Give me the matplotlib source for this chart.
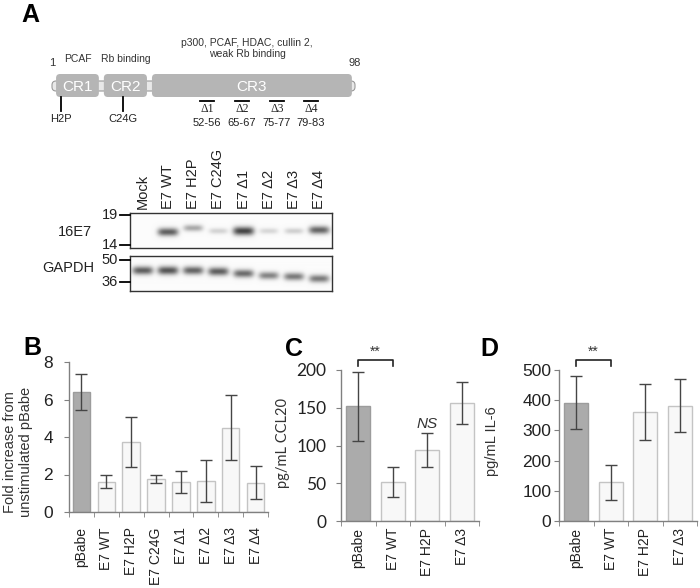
import matplotlib.pyplot as plt
import numpy as np
from matplotlib.patches import FancyBboxPatch

# ---- data ----
# E7 schematic (drawn units, roughly residues)
domain_names = ["CR1", "CR2", "CR3"]
domain_start = [2.3, 17.6, 33.0]
domain_end = [16.0, 31.4, 97.0]
domain_notes = ["PCAF", "Rb binding", "p300, PCAF, HDAC, cullin 2,\nweak Rb binding"]
mut_names = ["H2P", "C24G"]
mut_pos = [3.9, 23.7]
del_names = ["Δ1", "Δ2", "Δ3", "Δ4"]
del_ranges = ["52-56", "65-67", "75-77", "79-83"]
del_pos = [50.6, 61.8, 73.0, 83.9]

# western blot
lanes = ["Mock", "E7 WT", "E7 H2P", "E7 C24G", "E7 Δ1", "E7 Δ2", "E7 Δ3", "E7 Δ4"]
e7_band = [0.0, 0.85, 0.45, 0.22, 1.0, 0.2, 0.24, 0.82]
e7_band_y = [19, 19, 15, 18, 18, 18, 18, 17]
gapdh_band = [0.85, 0.9, 0.82, 0.85, 0.78, 0.65, 0.7, 0.7]
gapdh_band_y = [15, 15, 15, 16, 18, 20, 21, 23]
markers_top = ["19", "14"]
markers_bot = ["50", "36"]

# B
b_labels = ["pBabe", "E7 WT", "E7 H2P", "E7 C24G", "E7 Δ1", "E7 Δ2", "E7 Δ3", "E7 Δ4"]
b_vals = [6.4, 1.62, 3.75, 1.75, 1.6, 1.65, 4.5, 1.55]
b_errs = [0.95, 0.33, 1.34, 0.21, 0.58, 1.12, 1.75, 0.88]
# C
c_labels = ["pBabe", "E7 WT", "E7 H2P", "E7 Δ3"]
c_vals = [152, 52, 94, 156]
c_errs = [46, 20, 22, 28]
# D
d_labels = ["pBabe", "E7 WT", "E7 H2P", "E7 Δ3"]
d_vals = [392, 128, 360, 382]
d_errs = [87, 58, 92, 87]

plt.rcParams['font.family'] = ['Liberation Sans', 'DejaVu Sans']
W, H = 700, 588
fig = plt.figure(figsize=(7, 5.88), dpi=100)


def px_axes(x0, y0, x1, y1):
    return fig.add_axes([x0 / W, 1 - y1 / H, (x1 - x0) / W, (y1 - y0) / H])


def ftext(x, y, s, **kw):
    fig.text(x / W, 1 - y / H, s, **kw)


# ---- panel letters ----
for lx, ly, lt in [(30, 15, "A"), (32, 348, "B"), (294, 349, "C"), (489, 349, "D")]:
    ftext(lx, ly, lt, fontsize=18, fontweight="bold", ha="center", va="center")

# ---- A: schematic ----
ax_s = px_axes(40, 30, 370, 135)
sx = 303 / 97.0
ax_s.set_xlim(1 - 12 / sx, 98 + 15 / sx)
ax_s.set_ylim(105, 0)
ax_s.axis("off")
r = 4 / sx
ax_s.add_patch(FancyBboxPatch((1, 51), 97, 10, boxstyle=f"round,pad=0,rounding_size={r}",
                              mutation_aspect=sx, fc="#e8e8e8", ec="#9a9a9a", lw=0.8))
for name, s, e in zip(domain_names, domain_start, domain_end):
    ax_s.add_patch(FancyBboxPatch((s, 44), e - s, 23,
                                  boxstyle=f"round,pad=0,rounding_size={r}",
                                  mutation_aspect=sx, fc="#b5b5b5", ec="none"))
    ax_s.text((s + e) / 2, 57, name, color="white", fontsize=11, ha="center", va="center")
for i, (note, s, e) in enumerate(zip(domain_notes, domain_start, domain_end)):
    ax_s.text((s + e) / 2 + (-1.5 if i == 2 else 0), 34 if i < 2 else 29, note,
              fontsize=7.5, color="#333333", ha="center", va="bottom", linespacing=1.15)
ax_s.text(1, 33, "1", fontsize=8, color="#333333", ha="center", va="center")
ax_s.text(98, 33, "98", fontsize=8, color="#333333", ha="center", va="center")
for name, p in zip(mut_names, mut_pos):
    ax_s.plot([p, p], [67, 81], color="black", lw=1.3)
    ax_s.text(p, 89, name, fontsize=8, color="#222222", ha="center", va="center")
for name, rng, p in zip(del_names, del_ranges, del_pos):
    ax_s.plot([p - 2.3, p + 2.3], [71, 71], color="black", lw=1.3)
    ax_s.text(p, 79, name, fontsize=8.5, family="Liberation Serif", color="#222222",
              ha="center", va="center")
    ax_s.text(p, 93, rng, fontsize=8, color="#222222", ha="center", va="center")


# ---- A: western blot ----
def blot(ax, inten, ys, height, thick):
    nx, ny = 404, height * 4
    xx = np.linspace(-0.5, 7.5, nx)
    yy = np.linspace(0, height, ny)
    X, Y = np.meshgrid(xx, yy)
    img = np.full(X.shape, 0.985)
    for i, (a, y0) in enumerate(zip(inten, ys)):
        wx = 0.36 + 0.06 * a
        prof = np.exp(-((X - i) / wx) ** 4) * np.exp(-((Y - y0) / (thick * (0.7 + 0.5 * a))) ** 2)
        img -= a * 0.72 * prof
    img = np.clip(img, 0, 1)
    ax.imshow(img, cmap="gray", vmin=0, vmax=1, extent=(-0.5, 7.5, height, 0),
              aspect="auto", interpolation="bilinear")
    ax.set_xticks([])
    ax.set_yticks([])
    for sp in ax.spines.values():
        sp.set_color("#333333")
        sp.set_linewidth(1)


ax_b1 = px_axes(130, 213, 332, 248)
blot(ax_b1, e7_band, e7_band_y, 35, 3.6)
ax_b2 = px_axes(130, 256, 332, 291)
blot(ax_b2, gapdh_band, gapdh_band_y, 35, 3.6)
for i, lab in enumerate(lanes):
    ax_b1.text(i, 1 + 4 / 35, lab, transform=ax_b1.get_xaxis_transform(), rotation=90,
               fontsize=10.5, color="#222222", ha="center", va="bottom")
for lab, y in zip(markers_top + markers_bot, [215, 245, 260, 282]):
    ftext(118, y, lab, fontsize=10.5, color="#222222", ha="right", va="center")
    fig.add_artist(plt.Line2D([120 / W, 130 / W], [1 - y / H, 1 - y / H], color="black", lw=1.3))
ftext(75, 232, "16E7", fontsize=10.5, color="#222222", ha="center", va="center")
ftext(68, 268, "GAPDH", fontsize=10.5, color="#222222", ha="center", va="center")


# ---- bar charts ----
def bars(ax, labels, vals, errs, top, step, tickfont, labpad):
    n = len(labels)
    x = np.arange(n)
    fcs = ["#ababab"] + ["#f8f8f8"] * (n - 1)
    ecs = ["#9c9c9c"] + ["#c4c4c4"] * (n - 1)
    ax.bar(x, vals, width=0.7, color=fcs, edgecolor=ecs, linewidth=1, zorder=2)
    ax.errorbar(x, vals, yerr=errs, fmt="none", ecolor="#454545", elinewidth=1,
                capsize=4, capthick=1, zorder=3)
    ax.set_xlim(-0.5, n - 0.5)
    ax.set_ylim(0, top)
    ax.set_yticks(np.arange(0, top + step / 2, step))
    ax.set_xticks(x)
    ax.set_xticklabels(labels, rotation=90, fontsize=10, color="#222222")
    ax.set_xticks(np.arange(-0.5, n), minor=True)
    ax.tick_params(axis="x", which="major", length=0, pad=labpad)
    ax.tick_params(axis="x", which="minor", length=3.5, direction="out", color="#808080")
    ax.tick_params(axis="y", length=3.5, direction="out", color="#808080", labelsize=12.5,
                   labelcolor="#222222", pad=tickfont[1])
    for t in ax.get_yticklabels():
        t.set_family(tickfont[0])
    for s in ["top", "right"]:
        ax.spines[s].set_visible(False)
    for s in ["left", "bottom"]:
        ax.spines[s].set_color("#808080")
        ax.spines[s].set_linewidth(1)


ax_B = px_axes(69, 362, 268, 512)
bars(ax_B, b_labels, b_vals, b_errs, 8, 2, (["Liberation Sans"], 8), 11)
ftext(18, 452, "Fold increase from\nunstimulated pBabe", rotation=90, fontsize=10.5,
      color="#333333", ha="center", va="center", linespacing=1.1)

ax_C = px_axes(341, 370, 479, 521)
bars(ax_C, c_labels, c_vals, c_errs, 200, 50, (["Lato", "DejaVu Sans"], 7), 5)
ftext(283, 443, "pg/mL CCL20", rotation=90, fontsize=10.5, color="#333333",
      ha="center", va="center", family=["Lato", "DejaVu Sans"])

ax_D = px_axes(559, 370, 697, 521)
bars(ax_D, d_labels, d_vals, d_errs, 500, 100, (["Liberation Sans"], 2), 5)
ftext(492, 441, "pg/mL IL-6", rotation=90, fontsize=10.5, color="#333333",
      ha="center", va="center")

# significance marks
for ax, top in [(ax_C, 200), (ax_D, 500)]:
    yb = top * 1.065
    ax.plot([0, 0, 1, 1], [yb - top * 0.04, yb, yb, yb - top * 0.04], color="#222222",
            lw=1.2, clip_on=False)
    ax.text(0.5, yb + top * 0.01, "**", fontsize=10, color="#333333", ha="center",
            va="bottom", clip_on=False)
ax_C.text(2, c_vals[2] + c_errs[2] + 3, "NS", fontsize=11, style="italic", color="#333333",
          ha="center", va="bottom")

fig.savefig("out.png", dpi=100)
